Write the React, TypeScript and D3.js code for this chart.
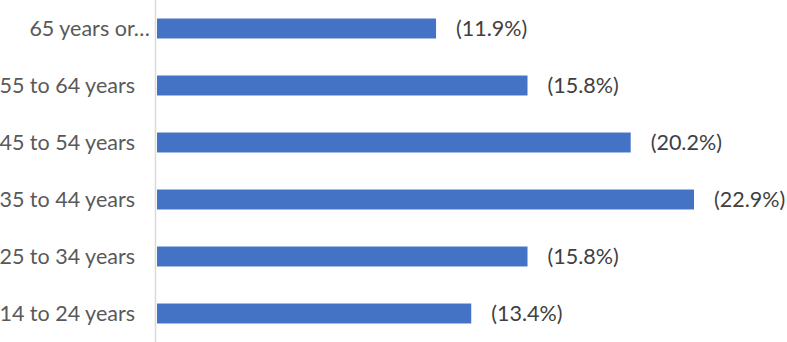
import React, { useRef, useEffect } from "react";
import * as d3 from "d3";

const categories = [
  "65 years or…",
  "55 to 64 years",
  "45 to 54 years",
  "35 to 44 years",
  "25 to 34 years",
  "14 to 24 years",
];
const shares = [11.9, 15.8, 20.2, 22.9, 15.8, 13.4];

const W = 787;
const H = 342;

const App = () => {
  const ref = useRef<SVGSVGElement>(null);

  useEffect(() => {
    if (!ref.current) return;
    const svg = d3.select(ref.current);
    svg.selectAll("*").remove();

    const left = 156;
    const x = d3.scaleLinear().domain([0, 22.9]).range([left + 1, 694]);
    const y = d3
      .scaleBand()
      .domain(categories)
      .range([0, H])
      .paddingInner(0.65)
      .paddingOuter(0.325);

    const data = categories.map((c, i) => ({ c, v: shares[i] }));

    svg
      .append("g")
      .selectAll("rect")
      .data(data)
      .enter()
      .append("rect")
      .attr("x", x(0))
      .attr("y", (d) => y(d.c)!)
      .attr("width", (d) => x(d.v) - x(0))
      .attr("height", y.bandwidth())
      .attr("fill", "#4472C4");

    svg
      .append("line")
      .attr("x1", left - 0.5)
      .attr("x2", left - 0.5)
      .attr("y1", 0)
      .attr("y2", H)
      .attr("stroke", "#D9D9D9")
      .attr("stroke-width", 1.5);

    const font = "Lato, 'Open Sans', sans-serif";

    // truncated labels sit closer to the axis (Excel-style)
    svg
      .append("g")
      .selectAll("text")
      .data(data)
      .enter()
      .append("text")
      .attr("x", (d) => (d.c.endsWith("…") ? 150 : 135))
      .attr("y", (d) => y(d.c)! + y.bandwidth() / 2)
      .attr("dy", "0.36em")
      .attr("text-anchor", "end")
      .style("font-family", font)
      .style("font-size", "21.5px")
      .attr("fill", "#595959")
      .text((d) => d.c);

    svg
      .append("g")
      .selectAll("text")
      .data(data)
      .enter()
      .append("text")
      .attr("x", (d) => x(d.v) + 20)
      .attr("y", (d) => y(d.c)! + y.bandwidth() / 2)
      .attr("dy", "0.36em")
      .style("font-family", font)
      .style("font-size", "21.5px")
      .attr("fill", "#404040")
      .text((d) => `(${d.v.toFixed(1)}%)`);
  }, []);

  return (
    <svg
      ref={ref}
      width={W}
      height={H}
      style={{ position: "absolute", left: 0, top: 0, background: "#fff" }}
    />
  );
};

export default App;
